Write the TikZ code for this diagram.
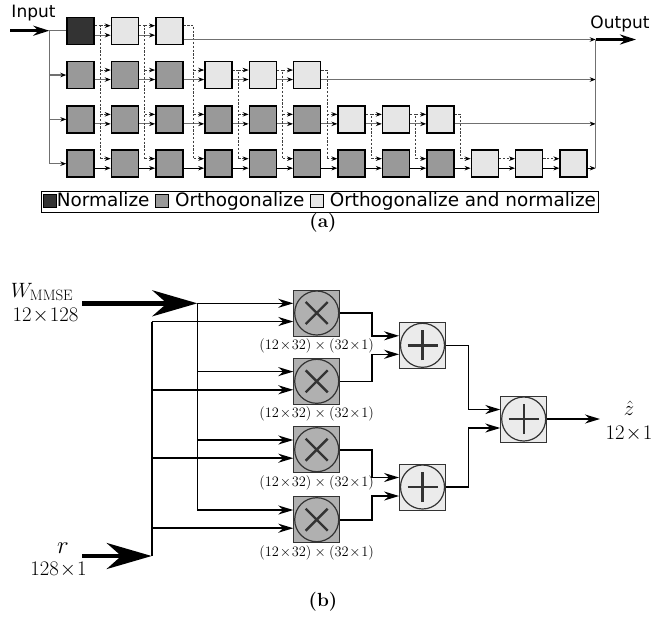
\documentclass[tikz,border=0pt]{standalone}
\usepackage{fontspec}
\newfontfamily\dejavu{DejaVu Sans}
\usetikzlibrary{arrows.meta,positioning,calc}
\definecolor{normfill}{HTML}{333333}
\definecolor{orthfill}{HTML}{999999}
\definecolor{bothfill}{HTML}{E6E6E6}
\definecolor{multfill}{HTML}{B0B0B0}
\definecolor{sumfill}{HTML}{EBEBEB}
\definecolor{wire}{HTML}{707070}

\newcommand{\legsq}[1]{{\setlength{\fboxsep}{0pt}\setlength{\fboxrule}{0.9pt}%
  \fcolorbox{black}{#1}{\rule{0pt}{12pt}\hspace{12pt}}}}

\begin{document}
\begin{tikzpicture}[x=1pt,y=-1pt,>=Stealth,
  blk/.style={draw,line width=1.4pt,minimum size=27pt,inner sep=0pt},
  norm/.style={blk,fill=normfill},
  orth/.style={blk,fill=orthfill},
  orthnorm/.style={blk,fill=bothfill},
  tip/.style={-{Stealth[length=6pt,width=4.5pt,color=black]}},
  link/.style={line width=0.9pt,tip},
  dlink/.style={line width=0.9pt,dash pattern=on 2.2pt off 1.6pt,draw=black!75},
  feed/.style={line width=1.3pt,draw=wire},
  fat/.style={line width=2.6pt,-{Stealth[length=16pt,width=10pt]}},
  lbl/.style={font=\dejavu\fontsize{17}{19}\selectfont,inner sep=0pt},
  mul/.style={draw=black!80,line width=0.8pt,fill=multfill,minimum size=46pt,inner sep=0pt,
    path picture={
      \draw[line width=1.2pt] (path picture bounding box.center) circle[radius=22pt];
      \draw[line width=2.4pt]
        ([shift={(-11pt,-11pt)}]path picture bounding box.center) -- ([shift={(11pt,11pt)}]path picture bounding box.center)
        ([shift={(-11pt,11pt)}]path picture bounding box.center) -- ([shift={(11pt,-11pt)}]path picture bounding box.center);}},
  add/.style={draw=black!80,line width=0.8pt,fill=sumfill,minimum size=46pt,inner sep=0pt,
    path picture={
      \draw[line width=1.2pt] (path picture bounding box.center) circle[radius=22pt];
      \draw[line width=2.4pt]
        ([shift={(-15pt,0pt)}]path picture bounding box.center) -- ([shift={(15pt,0pt)}]path picture bounding box.center)
        ([shift={(0pt,-15pt)}]path picture bounding box.center) -- ([shift={(0pt,15pt)}]path picture bounding box.center);}},
  sig/.style={line width=1.6pt,-{Stealth[length=15pt,width=9pt]}},
  bus/.style={line width=1.6pt},
  wide/.style={line width=4.6pt,-{Stealth[length=45pt,width=26pt]}},
  dim/.style={font=\fontsize{14.3}{16}\selectfont,inner sep=0pt},
  big/.style={font=\fontsize{21.5}{23}\selectfont,inner sep=0pt},
  caplbl/.style={font=\bfseries\fontsize{19}{21}\selectfont,inner sep=0pt}]

  \useasboundingbox (0,0) rectangle (652,616);

  % (a) blocks
  \foreach \r in {1,...,4}{
    \pgfmathtruncatemacro{\n}{3*\r}
    \pgfmathsetmacro{\yy}{30.7+44.33*(\r-1)}
    \foreach \c in {1,...,\n}{
      \pgfmathsetmacro{\xx}{80.5+44.4*(\c-1)+(\c>3)*4.7}
      \ifnum\c>\numexpr\n-3\relax\def\kind{orthnorm}\else\def\kind{orth}\fi
      \ifnum\r=1 \ifnum\c=1 \def\kind{norm}\fi\fi
      \node[\kind] (b-\r-\c) at (\xx,\yy) {};
    }
  }

  % solid links along each row
  \foreach \r in {1,...,4}{
    \pgfmathtruncatemacro{\n}{3*\r-1}
    \ifnum\r=4 \def\wc{black}\else\def\wc{wire}\fi
    \foreach \c in {1,...,\n}{
      \pgfmathtruncatemacro{\d}{\c+1}
      \draw[link,draw=\wc] ([yshift=-4.5pt]b-\r-\c.east) -- ([yshift=-4.5pt]b-\r-\d.west);
    }
  }

  % dashed feeds down the columns
  \foreach \g in {1,...,9}{
    \pgfmathtruncatemacro{\s}{ceil(\g/3)}
    \pgfmathtruncatemacro{\h}{\g+1}
    \pgfmathsetmacro{\xv}{80.5+44.4*\g+(\h>3)*4.7-24.5}
    \draw[dlink] ([yshift=5pt]b-\s-\g.east) -| (\xv,{30.7+44.33*3-5});
    \foreach \r in {\s,...,4}{
      \pgfmathtruncatemacro{\ok}{\h<=3*\r}
      \ifnum\ok=1
        \coordinate (v-\g-\r) at (\xv,{30.7+44.33*(\r-1)-5});
        \draw[dlink,tip] (v-\g-\r) -- (v-\g-\r -| b-\r-\h.west);
      \fi
    }
  }
  \draw[dlink,tip] ([yshift=5pt]b-4-10.east) -- ([yshift=5pt]b-4-11.west);
  \draw[dlink,tip] ([yshift=5pt]b-4-11.east) -- ([yshift=5pt]b-4-12.west);

  % input side
  \node[lbl,anchor=base] (inlab) at (33.5,17.3) {Input};
  \coordinate (instart) at (10,30.7);
  \coordinate (split) at (49.3,30.7);
  \draw[fat] (instart) -- (split);
  \draw[feed] (split) -- (split |- b-4-1.west);
  \draw[feed] (split) -- (b-1-1.west);
  \foreach \r in {2,3,4}
    \draw[feed,tip] (split |- b-\r-1.west) -- (b-\r-1.west);

  % output side
  \coordinate (merge) at (595.7,0);
  \foreach \r/\dy in {1/-8.8,2/-4.5,3/-4.5,4/-4.5}{
    \pgfmathtruncatemacro{\n}{3*\r}
    \ifnum\r=4 \def\wc{black}\else\def\wc{wire}\fi
    \coordinate (e\r) at ([yshift=\dy pt]b-\r-\n.east);
    \draw[link,draw=\wc] (e\r) -- (e\r -| merge);
  }
  \draw[feed] (e1 -| merge) -- (e4 -| merge);
  \coordinate (outend) at (636,39.5);
  \draw[fat] (e1 -| merge) -- (outend);
  \node[lbl,anchor=base] (outlab) at (620,28) {Output};

  % legend
  \node[draw,line width=0.8pt,inner xsep=2pt,inner ysep=1.5pt,
        font=\dejavu\fontsize{18.4}{20}\selectfont] (legend) at (319.5,201.5)
    {\legsq{normfill}Normalize \legsq{orthfill} Orthogonalize \legsq{bothfill} Orthogonalize and normalize};
  \node[caplbl] (capa) at (323,223) {(a)};

  % (b) multipliers and adders
  \node[mul] (m1) at (316.7,313) {};
  \node[mul] (m2) at (316.7,381.3) {};
  \node[mul] (m3) at (316.7,449.7) {};
  \node[mul] (m4) at (316.7,519.7) {};
  \foreach \i in {1,...,4}
    \node[dim,below=2pt of m\i] (d\i) {$(12\!\times\!32)\times(32\!\times\!1)$};
  \node[add] (s1) at (422.5,345.3) {};
  \node[add] (s2) at (422.5,487) {};
  \node[add] (s3) at (523.7,419) {};

  % W and r buses
  \node[big,anchor=base] (wlab) at (42,297) {$W_{\mathrm{MMSE}}$};
  \node[big,anchor=base] (wdim) at (45.5,321) {$12\!\times\!128$};
  \coordinate (wtail) at (82,303.3);
  \coordinate (wtip) at (197.3,303.3);
  \draw[wide] (wtail) -- (wtip);
  \node[font=\fontsize{25}{27}\selectfont,inner sep=0pt,anchor=base] (rlab) at (63,553) {$r$};
  \node[big,anchor=base] (rdim) at (58.5,575) {$128\!\times\!1$};
  \coordinate (rtail) at (82,556);
  \coordinate (rtip) at (151.7,556);
  \draw[wide] (rtail) -- (rtip);
  \foreach \i in {1,...,4}{
    \coordinate (mi\i) at ([yshift=9.7pt]m\i.west);
    \coordinate (w\i) at (mi\i -| wtip);
    \coordinate (ri\i) at ([yshift=-8.5pt]m\i.west);
    \coordinate (r\i) at (ri\i -| rtip);
  }
  \draw[bus] (w1) -- (w4);
  \draw[bus] (r1) -- (rtip);
  \foreach \i in {1,...,4}{
    \draw[sig] (w\i) -- (mi\i);
    \draw[sig] (r\i) -- (ri\i);
  }

  % sums
  \draw[sig] (m1.east) -- ++(31.7,0) |- ([yshift=9.5pt]s1.west);
  \draw[sig] (m2.east) -- ++(31.7,0) |- ([yshift=-9pt]s1.west);
  \draw[sig] (m3.east) -- ++(31.7,0) |- ([yshift=9.5pt]s2.west);
  \draw[sig] (m4.east) -- ++(31.7,0) |- ([yshift=-9pt]s2.west);
  \draw[sig] (s1.east) -- ++(22.6,0) |- ([yshift=9.5pt]s3.west);
  \draw[sig] (s2.east) -- ++(22.6,0) |- ([yshift=-9pt]s3.west);
  \coordinate (zend) at (600,419);
  \draw[sig] (s3.east) -- (zend);
  \node[big,anchor=base] (zlab) at (629,415) {$\hat{z}$};
  \node[big,anchor=base] (zdim) at (629,439) {$12\!\times\!1$};
  \node[caplbl] (capb) at (323,602) {(b)};
\end{tikzpicture}
\end{document}
